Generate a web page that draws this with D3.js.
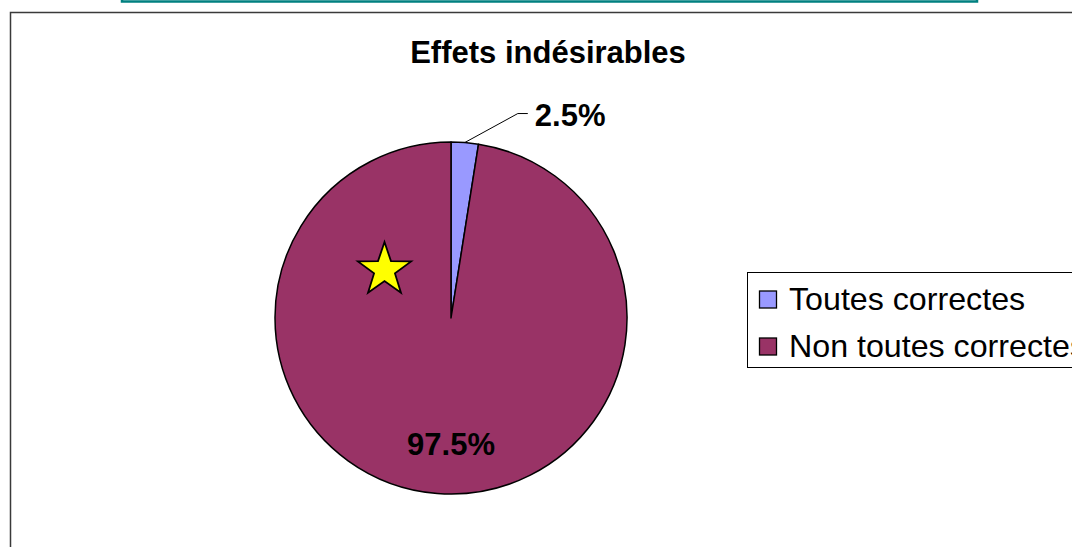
<!DOCTYPE html>
<html>
<head>
<meta charset="utf-8">
<script src="https://cdn.jsdelivr.net/npm/d3@7"></script>
<style>
  body { margin: 0; background: #fff; }
  svg { display: block; font-family: Arial, "Liberation Sans", sans-serif; }
</style>
</head>
<body>
<svg id="chart" width="1072" height="547"></svg>
<script>
"use strict";

var categories = ["Toutes correctes", "Non toutes correctes"],
    values = [2.5, 97.5],
    labels = ["2.5%", "97.5%"],
    colors = ["#9999FF", "#993366"],
    title = "Effets indésirables";

var svg = d3.select("#chart"),
    cx = 451, // pie centre
    cy = 318,
    radius = 176;

// teal box cut by the top of the page
svg.append("rect")
    .attr("x", 122).attr("y", -10)
    .attr("width", 855).attr("height", 11.5)
    .attr("fill", "none")
    .attr("stroke", "#008080")
    .attr("stroke-width", 2.5);

// chart frame (runs past right and bottom edges)
svg.append("rect")
    .attr("x", 10.5).attr("y", 12.5)
    .attr("width", 1100).attr("height", 600)
    .attr("fill", "#fff")
    .attr("stroke", "#3a3a3a")
    .attr("stroke-width", 1.5);

svg.append("text")
    .attr("x", 548).attr("y", 63)
    .attr("text-anchor", "middle")
    .attr("font-size", 31)
    .attr("font-weight", "bold")
    .text(title);

var pie = d3.pie().sort(null).value(function (d) { return d; }),
    arcs = pie(values),
    arc = d3.arc().innerRadius(0).outerRadius(radius),
    labelArc = d3.arc().innerRadius(radius * 0.72).outerRadius(radius * 0.72);

var g = svg.append("g")
    .attr("transform", "translate(" + cx + "," + cy + ")");

g.selectAll("path.slice")
    .data(arcs)
    .enter().append("path")
    .attr("class", "slice")
    .attr("d", arc)
    .attr("fill", function (d, i) { return colors[i]; })
    .attr("stroke", "#000")
    .attr("stroke-width", 1.5)
    .attr("stroke-linejoin", "round");

// small slice: label outside with a leader line
var small = arcs[0],
    mid = (small.startAngle + small.endAngle) / 2,
    p0 = [Math.sin(mid) * radius, -Math.cos(mid) * radius],
    p1 = [p0[0] + 53, p0[1] - 29],
    p2 = [p1[0] + 10, p1[1]];

g.append("polyline")
    .attr("points", [p0, p1, p2].map(function (p) { return p.join(","); }).join(" "))
    .attr("fill", "none")
    .attr("stroke", "#000")
    .attr("stroke-width", 1);

g.append("text")
    .attr("x", p2[0] + 7)
    .attr("y", p2[1] + 12)
    .attr("font-size", 31)
    .attr("font-weight", "bold")
    .text(labels[0]);

// big slice: label inside
var c = labelArc.centroid(arcs[1]);
g.append("text")
    .attr("x", c[0] + 10)
    .attr("y", c[1] + 11)
    .attr("text-anchor", "middle")
    .attr("font-size", 31)
    .attr("font-weight", "bold")
    .text(labels[1]);

// yellow star drawn on the big slice
var starPts = d3.range(10).map(function (i) {
    var a = i * Math.PI / 5,
        r = i % 2 === 0 ? 28 : 11;
    return [384.5 + Math.sin(a) * r, 270 - Math.cos(a) * r];
});
svg.append("polygon")
    .attr("points", starPts.map(function (p) { return p.join(","); }).join(" "))
    .attr("fill", "#FFFF00")
    .attr("stroke", "#000")
    .attr("stroke-width", 1.8)
    .attr("stroke-linejoin", "miter");

// legend
var legend = svg.append("g");
legend.append("rect")
    .attr("x", 747.5).attr("y", 272.5)
    .attr("width", 400).attr("height", 95)
    .attr("fill", "#fff")
    .attr("stroke", "#000")
    .attr("stroke-width", 1);

var rows = legend.selectAll("g.row")
    .data(categories)
    .enter().append("g")
    .attr("class", "row")
    .attr("transform", function (d, i) { return "translate(0," + (i * 47) + ")"; });

rows.append("rect")
    .attr("x", 759.5).attr("y", 291)
    .attr("width", 17).attr("height", 17)
    .attr("fill", function (d, i) { return colors[i]; })
    .attr("stroke", "#000")
    .attr("stroke-width", 1.3);

rows.append("text")
    .attr("x", 789).attr("y", 310)
    .attr("font-size", 32.2)
    .text(function (d) { return d; });
</script>
</body>
</html>
